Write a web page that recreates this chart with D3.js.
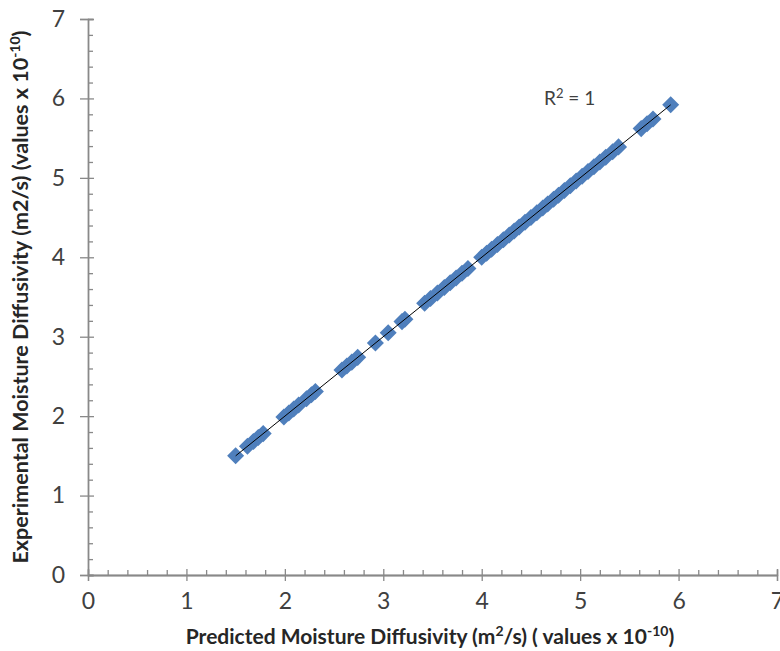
<!DOCTYPE html>
<html>
<head>
<meta charset="utf-8">
<script src="https://cdn.jsdelivr.net/npm/d3@7"></script>
<style>
body { margin: 0; background: #fff; }
text { font-family: Lato, "Open Sans", sans-serif; }
</style>
</head>
<body>
<div id="chart"></div>
<script>
// predicted vs experimental diffusivity (values x 1e-10)
var predicted = [1.50, 1.62, 1.68, 1.73, 1.78, 1.99, 2.04, 2.09, 2.14, 2.22, 2.27, 2.31,
	2.58, 2.63, 2.68, 2.74, 2.92, 3.05, 3.19, 3.22, 3.42, 3.48, 3.55, 3.62, 3.68, 3.74,
	3.80, 3.86, 4.00, 4.05, 4.10, 4.16, 4.22, 4.28, 4.33, 4.38, 4.44, 4.50, 4.56, 4.62,
	4.67, 4.73, 4.78, 4.84, 4.90, 4.96, 5.02, 5.08, 5.14, 5.20, 5.26, 5.33, 5.39,
	5.62, 5.68, 5.74, 5.92]
var experimental = [1.50, 1.62, 1.68, 1.73, 1.78, 1.99, 2.04, 2.09, 2.14, 2.22, 2.27, 2.31,
	2.58, 2.63, 2.68, 2.74, 2.92, 3.05, 3.19, 3.22, 3.42, 3.48, 3.55, 3.62, 3.68, 3.74,
	3.80, 3.86, 4.00, 4.05, 4.10, 4.16, 4.22, 4.28, 4.33, 4.38, 4.44, 4.50, 4.56, 4.62,
	4.67, 4.73, 4.78, 4.84, 4.90, 4.96, 5.02, 5.08, 5.14, 5.20, 5.26, 5.33, 5.39,
	5.62, 5.68, 5.74, 5.92]
var majorTicks = [0, 1, 2, 3, 4, 5, 6, 7]
var rSquaredLabel = 'R'

var width = 780, height = 651
var margin = {top: 19, right: 3, bottom: 76, left: 88}
var axisColor = '#898989'

var svg = d3.select('#chart').append('svg')
	.attr('width', width).attr('height', height)

var x = d3.scaleLinear().domain([0, 7]).range([margin.left, width - margin.right])
var y = d3.scaleLinear().domain([0, 7]).range([height - margin.bottom, margin.top])

var minorTicks = d3.range(0, 7.01, 0.2).filter(function(v) { return Math.abs(v - Math.round(v)) > 0.01 })

// minor ticks (inside)
var xMinor = svg.append('g').attr('transform', 'translate(0,' + y(0) + ')')
	.call(d3.axisTop(x).tickValues(minorTicks).tickSize(5).tickFormat(''))
var yMinor = svg.append('g').attr('transform', 'translate(' + x(0) + ',0)')
	.call(d3.axisRight(y).tickValues(minorTicks).tickSize(5).tickFormat(''))

// major ticks crossing the axis
var xMajorIn = svg.append('g').attr('transform', 'translate(0,' + y(0) + ')')
	.call(d3.axisTop(x).tickValues(majorTicks).tickSize(6).tickFormat(''))
var yMajorIn = svg.append('g').attr('transform', 'translate(' + x(0) + ',0)')
	.call(d3.axisRight(y).tickValues(majorTicks).tickSize(6).tickFormat(''))

var xAxis = svg.append('g').attr('transform', 'translate(0,' + y(0) + ')')
	.call(d3.axisBottom(x).tickValues(majorTicks).tickSize(6).tickPadding(12).tickFormat(d3.format('d')))
var yAxis = svg.append('g').attr('transform', 'translate(' + x(0) + ',0)')
	.call(d3.axisLeft(y).tickValues(majorTicks).tickSize(8).tickPadding(15).tickFormat(d3.format('d')))

;[xMinor, yMinor, xMajorIn, yMajorIn, xAxis, yAxis].forEach(function(g) {
	g.selectAll('.domain').attr('stroke', axisColor).attr('stroke-width', 1.3)
	g.selectAll('.tick line').attr('stroke', axisColor).attr('stroke-width', 1.3)
})
xAxis.selectAll('.tick text').attr('fill', '#404040').style('font-size', '23px')
yAxis.selectAll('.tick text').attr('fill', '#404040').style('font-size', '23px')

// points
var pts = predicted.map(function(p, i) { return {p: p, e: experimental[i]} })
svg.append('g').selectAll('path').data(pts).enter().append('path')
	.attr('d', d3.symbol().type(d3.symbolSquare).size(145))
	.attr('transform', function(d) { return 'translate(' + x(d.p) + ',' + y(d.e) + ') rotate(45)' })
	.attr('fill', '#4f7fbc')

// linear trendline
var mx = d3.mean(predicted), my = d3.mean(experimental)
var slope = d3.sum(predicted, function(p, i) { return (p - mx) * (experimental[i] - my) }) /
	d3.sum(predicted, function(p) { return (p - mx) * (p - mx) })
var icpt = my - slope * mx
var ext = d3.extent(predicted)
svg.append('line')
	.attr('x1', x(ext[0])).attr('y1', y(icpt + slope * ext[0]))
	.attr('x2', x(ext[1])).attr('y2', y(icpt + slope * ext[1]))
	.attr('stroke', '#000').attr('stroke-width', 1)

// R squared label
var r2 = svg.append('text').attr('x', 544).attr('y', 105)
	.attr('fill', '#404040').style('font-size', '19px')
r2.append('tspan').text(rSquaredLabel)
r2.append('tspan').attr('dy', -7).style('font-size', '13px').text('2')
r2.append('tspan').attr('dy', 7).text(' = 1')

// axis titles
var xt = svg.append('text').attr('x', 430).attr('y', 644).attr('text-anchor', 'middle')
	.attr('fill', '#262626').style('font-size', '21px').style('font-weight', 'bold')
xt.append('tspan').text('Predicted Moisture Diffusivity (m')
xt.append('tspan').attr('dy', -8).style('font-size', '14px').text('2')
xt.append('tspan').attr('dy', 8).text('/s) ( values x 10')
xt.append('tspan').attr('dy', -8).style('font-size', '14px').text('-10')
xt.append('tspan').attr('dy', 8).text(')')

var yt = svg.append('text').attr('transform', 'translate(28,297) rotate(-90)').attr('text-anchor', 'middle')
	.attr('fill', '#262626').style('font-size', '21.5px').style('font-weight', 'bold')
yt.append('tspan').text('Experimental Moisture Diffusivity (m2/s) (values x 10')
yt.append('tspan').attr('dy', -8).style('font-size', '14px').text('-10')
yt.append('tspan').attr('dy', 8).text(')')
</script>
</body>
</html>
